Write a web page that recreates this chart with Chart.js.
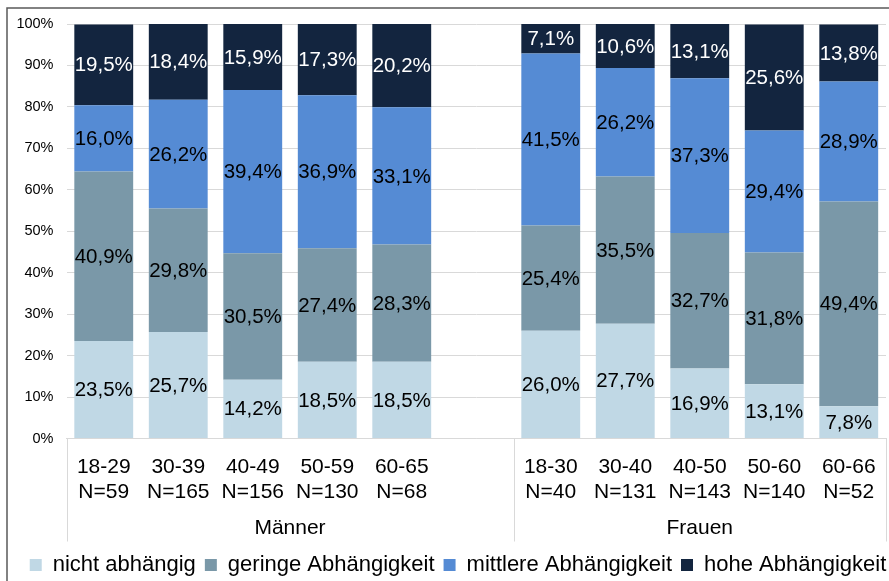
<!DOCTYPE html>
<html>
<head>
<meta charset="utf-8">
<script src="https://cdn.jsdelivr.net/npm/chart.js@4/dist/chart.umd.min.js"></script>
<style>
  body { margin: 0; background: #fff; }
</style>
</head>
<body>
<canvas id="abhaengigkeit" width="889" height="581"></canvas>
<script>
// age groups per sex, empty slot between Männer and Frauen
var ageLabels = [
    ['18-29', 'N=59'], ['30-39', 'N=165'], ['40-49', 'N=156'], ['50-59', 'N=130'], ['60-65', 'N=68'],
    '',
    ['18-30', 'N=40'], ['30-40', 'N=131'], ['40-50', 'N=143'], ['50-60', 'N=140'], ['60-66', 'N=52']
];
var groupNames = ['Männer', 'Frauen'];
var groupSlots = [[0, 6], [6, 11]];

var seriesNames = ['nicht abhängig', 'geringe Abhängigkeit', 'mittlere Abhängigkeit', 'hohe Abhängigkeit'];
var nichtAbhaengig = [23.5, 25.7, 14.2, 18.5, 18.5, null, 26.0, 27.7, 16.9, 13.1, 7.8];
var geringe = [40.9, 29.8, 30.5, 27.4, 28.3, null, 25.4, 35.5, 32.7, 31.8, 49.4];
var mittlere = [16.0, 26.2, 39.4, 36.9, 33.1, null, 41.5, 26.2, 37.3, 29.4, 28.9];
var hohe = [19.5, 18.4, 15.9, 17.3, 20.2, null, 7.1, 10.6, 13.1, 25.6, 13.8];
var yTicks = [0, 10, 20, 30, 40, 50, 60, 70, 80, 90, 100];

var colors = ['#c0d8e5', '#7a98a8', '#558bd4', '#13253f'];
var labelColors = ['#000', '#000', '#000', '#fff'];
var font = "'Liberation Sans', Arial, sans-serif";

Chart.defaults.font.family = font;
Chart.defaults.color = '#000';

// frame line at the top and left of the canvas
var frame = {
    id: 'frame',
    afterDraw: function (chart) {
        var ctx = chart.ctx;
        ctx.save();
        ctx.strokeStyle = '#5a5a5a';
        ctx.lineWidth = 1.5;
        ctx.beginPath();
        ctx.moveTo(889, 8);
        ctx.lineTo(7, 8);
        ctx.lineTo(7, 581);
        ctx.stroke();
        ctx.restore();
    }
};

// nudge the legend row a bit right and down
var legendShift = {
    id: 'legendShift',
    afterLayout: function (chart) {
        var lg = chart.legend;
        lg.left += 15; lg.right += 15;
        lg.top += 5; lg.bottom += 5;
    }
};

// percentage labels in the middle of each segment
var segmentLabels = {
    id: 'segmentLabels',
    afterDatasetsDraw: function (chart) {
        var ctx = chart.ctx;
        ctx.save();
        ctx.font = '20.5px ' + font;
        ctx.textAlign = 'center';
        ctx.textBaseline = 'middle';
        chart.data.datasets.forEach(function (ds, di) {
            var meta = chart.getDatasetMeta(di);
            meta.data.forEach(function (bar, i) {
                var v = ds.data[i];
                if (v === null) return;
                ctx.fillStyle = labelColors[di];
                ctx.fillText(v.toFixed(1).replace('.', ',') + '%', bar.x, (bar.y + bar.base) / 2 + 1);
            });
        });
        ctx.restore();
    }
};

// second row of the x axis: Männer / Frauen with separator lines
var groupAxis = {
    id: 'groupAxis',
    afterDraw: function (chart) {
        var ctx = chart.ctx;
        var x = chart.scales.x;
        var bottom = chart.chartArea.bottom;
        var slot = x.getPixelForValue(1) - x.getPixelForValue(0);
        var edge = function (i) { return x.getPixelForValue(0) - slot / 2 + i * slot; };
        ctx.save();
        ctx.strokeStyle = '#d9d9d9';
        ctx.lineWidth = 1;
        var bounds = [0, 6, 11];
        bounds.forEach(function (b) {
            var px = Math.round(edge(b)) + 0.5;
            ctx.beginPath();
            ctx.moveTo(px, bottom);
            ctx.lineTo(px, bottom + 103);
            ctx.stroke();
        });
        ctx.font = '21px ' + font;
        ctx.fillStyle = '#000';
        ctx.textAlign = 'center';
        ctx.textBaseline = 'middle';
        groupNames.forEach(function (name, g) {
            var cx = (edge(groupSlots[g][0]) + edge(groupSlots[g][1])) / 2;
            ctx.fillText(name, cx, bottom + 90);
        });
        ctx.restore();
    }
};

var ctx = document.getElementById('abhaengigkeit').getContext('2d');
var chart = new Chart(ctx, {
    type: 'bar',
    data: {
        labels: ageLabels,
        datasets: seriesNames.map(function (name, i) {
            return {
                label: name,
                data: [nichtAbhaengig, geringe, mittlere, hohe][i],
                backgroundColor: colors[i],
                borderWidth: 0,
                categoryPercentage: 1,
                barPercentage: 0.79
            };
        })
    },
    plugins: [frame, legendShift, segmentLabels, groupAxis],
    options: {
        responsive: false,
        animation: false,
        layout: { padding: { left: 0, right: 3, top: 24, bottom: 0 } },
        plugins: {
            tooltip: { enabled: false },
            legend: {
                position: 'bottom',
                labels: {
                    font: { size: 22 },
                    color: '#000',
                    boxWidth: 12,
                    boxHeight: 12,
                    padding: 9
                }
            }
        },
        scales: {
            x: {
                stacked: true,
                grid: { display: false },
                border: { color: '#d9d9d9' },
                ticks: { font: { size: 21, lineHeight: 1.2 }, padding: 8, maxRotation: 0, autoSkip: false },
                afterFit: function (scale) { scale.height = 101.5; }
            },
            y: {
                stacked: true,
                min: 0,
                max: 100,
                afterBuildTicks: function (scale) {
                    scale.ticks = yTicks.map(function (v) { return { value: v }; });
                },
                grid: { color: '#d9d9d9', drawTicks: false },
                border: { display: false },
                ticks: {
                    font: { size: 14.5 },
                    padding: 13,
                    callback: function (v) { return v + '%'; }
                },
                afterFit: function (scale) { scale.width = 66.5; }
            }
        }
    }
});
</script>
</body>
</html>
